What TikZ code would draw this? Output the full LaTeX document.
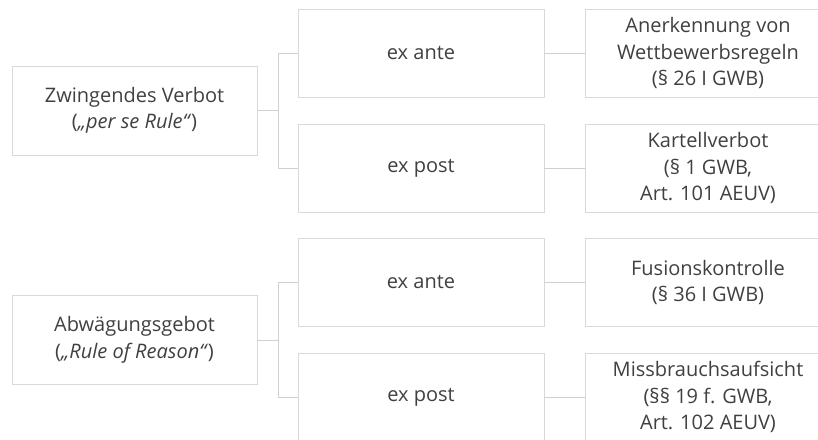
\documentclass[tikz,border=0pt]{standalone}
\usepackage{fontspec}
\setmainfont{Open Sans}
\begin{document}
\begin{tikzpicture}[x=1pt,y=1pt,
    box/.style={draw=boxgray, line width=0.9pt, minimum width=246pt, minimum height=88pt,
      align=center, text=textgray, font=\fontsize{20}{26.5}\selectfont},
    leftbox/.style={box, minimum width=245pt, minimum height=89pt},
    link/.style={draw=linkgray, line width=0.9pt}]
  \definecolor{boxgray}{HTML}{D9D9D9}
  \definecolor{linkgray}{HTML}{D0D0D0}
  \definecolor{textgray}{HTML}{404040}
  \useasboundingbox (0,0) rectangle (818,439);
  \clip (0,0) rectangle (818,439);
  \draw
    (134.5,328.5) node[leftbox] (zv){Zwingendes Verbot\\(\textit{„per se Rule“})}
    (134.5,99) node[leftbox] (ag){Abwägungsgebot\\(\textit{„Rule of Reason“})}
    (421,386) node[box] (zva){ex ante}
    (421,271) node[box] (zvp){ex post}
    (421,156.5) node[box] (aga){ex ante}
    (421,42) node[box] (agp){ex post}
    (708,386) node[box] (zvar){Anerkennung von\\Wettbewerbsregeln\\(§ 26 I GWB)}
    (708,271) node[box] (zvpr){Kartellverbot\\(§ 1 GWB,\\Art. 101 AEUV)}
    (708,156.5) node[box] (agar){Fusionskontrolle\\(§ 36 I GWB)}
    (708,42) node[box] (agpr){Missbrauchsaufsicht\\(§§ 19 f. GWB,\\Art. 102 AEUV)};
  \coordinate (zvj) at (278,328.5);
  \coordinate (agj) at (278,99);
  \begin{scope}[link]
    \draw (zv.east) -- (zvj);
    \draw (zvj) |- (zva.west);
    \draw (zvj) |- (zvp.west);
    \draw (ag.east) -- (agj);
    \draw (agj) |- (aga.west);
    \draw (agj) |- (agp.west);
    \draw (zva) -- (zvar);
    \draw (zvp) -- (zvpr);
    \draw (aga) -- (agar);
    \draw (agp) -- (agpr);
  \end{scope}
\end{tikzpicture}
\end{document}
